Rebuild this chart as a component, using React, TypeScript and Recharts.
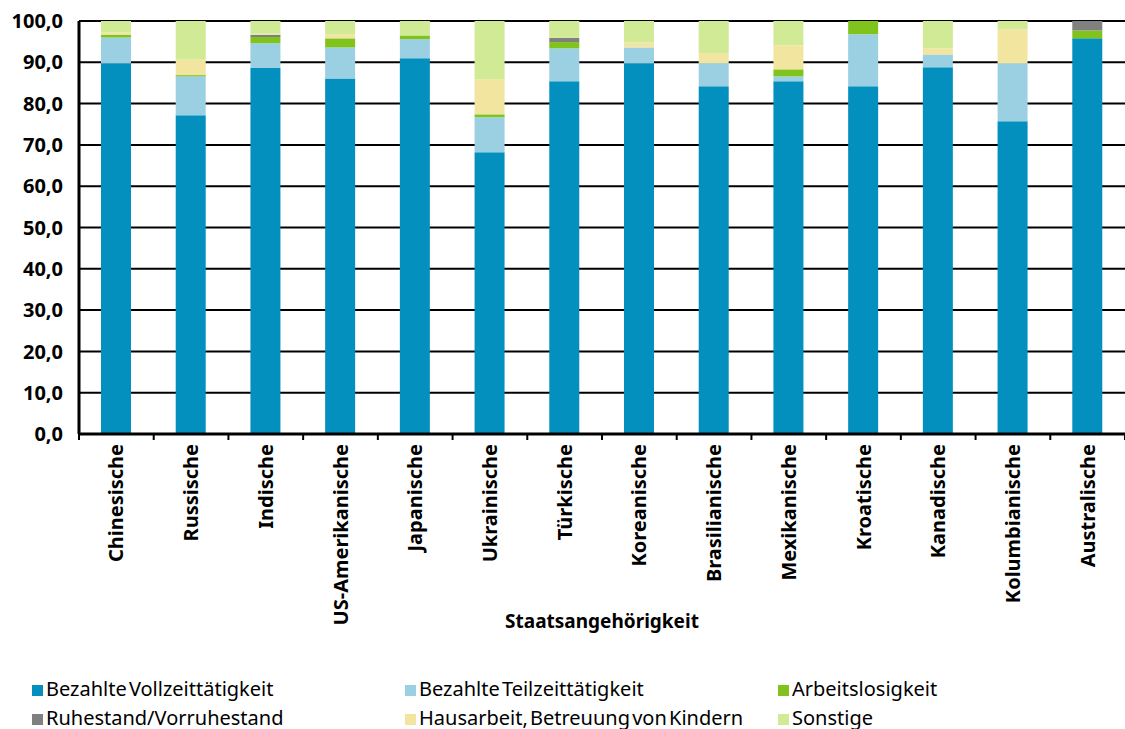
import { BarChart, Bar, XAxis, YAxis, CartesianGrid, Legend } from 'recharts'

const categories = [
  'Chinesische', 'Russische', 'Indische', 'US-Amerikanische', 'Japanische', 'Ukrainische', 'Türkische',
  'Koreanische', 'Brasilianische', 'Mexikanische', 'Kroatische', 'Kanadische', 'Kolumbianische', 'Australische',
]

const vollzeit = [89.8, 77.2, 88.6, 86.1, 91.0, 68.2, 85.4, 89.8, 84.2, 85.4, 84.2, 88.8, 75.7, 95.8]
const teilzeit = [6.2, 9.4, 6.0, 7.5, 4.6, 8.5, 8.0, 3.8, 5.6, 1.2, 12.6, 3.1, 14.1, 0]
const arbeitslos = [0.7, 0.3, 1.5, 2.2, 0.9, 0.7, 1.5, 0, 0, 1.7, 3.2, 0, 0, 1.9]
const ruhestand = [0, 0, 0.6, 0, 0, 0, 1.0, 0, 0, 0, 0, 0, 0, 2.3]
const hausarbeit = [0.5, 3.8, 0.2, 1.0, 0, 8.5, 0, 1.2, 2.4, 5.8, 0, 1.5, 8.2, 0]
const sonstige = [2.8, 9.3, 3.1, 3.2, 3.5, 14.1, 4.1, 5.2, 7.8, 5.9, 0, 6.6, 2.0, 0]

const yTicks = [0, 10, 20, 30, 40, 50, 60, 70, 80, 90, 100]

const series = [
  { key: 'voll', name: 'Bezahlte Vollzeittätigkeit', color: '#0490BF' },
  { key: 'teil', name: 'Bezahlte Teilzeittätigkeit', color: '#9BD0E3' },
  { key: 'arb', name: 'Arbeitslosigkeit', color: '#80C31C' },
  { key: 'ruhe', name: 'Ruhestand/Vorruhestand', color: '#808080' },
  { key: 'haus', name: 'Hausarbeit, Betreuung von Kindern', color: '#F2E5A0' },
  { key: 'sonst', name: 'Sonstige', color: '#D0EA96' },
]

const data = categories.map((c, i) => ({
  name: c,
  voll: vollzeit[i],
  teil: teilzeit[i],
  arb: arbeitslos[i],
  ruhe: ruhestand[i],
  haus: hausarbeit[i],
  sonst: sonstige[i],
}))

const FONT = "'Noto Sans', sans-serif"

// eslint-disable-next-line @typescript-eslint/no-explicit-any
function XTick(props: any) {
  const { x, y, payload, index } = props
  const half = payload?.offset || 37.4
  return (
    <g>
      {index === 0 && <line x1={x - half} y1={y} x2={x - half} y2={y + 6} stroke="#000" strokeWidth={2} />}
      <line x1={x + half} y1={y} x2={x + half} y2={y + 6} stroke="#000" strokeWidth={2} />
      <text
        x={x}
        y={y + 10}
        dy="0.35em"
        transform={`rotate(-90, ${x}, ${y + 10})`}
        textAnchor="end"
        fill="#000"
        fontSize={20}
        fontWeight={700}
        fontFamily={FONT}
      >
        {payload.value}
      </text>
    </g>
  )
}

function LegendContent() {
  return (
    <div
      style={{
        display: 'grid',
        gridTemplateColumns: '373px 373px 373px',
        paddingLeft: 32,
        fontFamily: FONT,
        fontSize: 20,
        lineHeight: '29px',
        color: '#000',
        wordSpacing: -3,
      }}
    >
      {series.map((s) => (
        <div key={s.key} style={{ whiteSpace: 'nowrap' }}>
          <span
            style={{
              display: 'inline-block',
              width: 11,
              height: 11,
              background: s.color,
              marginRight: 3,
              verticalAlign: 'baseline',
            }}
          />
          {s.name}
        </div>
      ))}
    </div>
  )
}

export default function App() {
  return (
    <div style={{ position: 'absolute', left: 0, top: 0, width: 1125, height: 729, background: '#fff' }}>
      <BarChart width={1125} height={729} data={data} margin={{ top: 21, right: 0, left: 0, bottom: 0 }}>
        <CartesianGrid vertical={false} stroke="#000" strokeWidth={2} />
        <XAxis
          dataKey="name"
          height={295}
          interval={0}
          tickSize={0}
          tickMargin={0}
          tickLine={false}
          axisLine={{ stroke: '#000', strokeWidth: 3 }}
          tick={(p: any) => <XTick {...p} />}
          label={{
            value: 'Staatsangehörigkeit',
            position: 'insideTop',
            offset: 181,
            style: { fill: '#000', fontSize: 19, fontWeight: 700, fontFamily: FONT },
          }}
        />
        <YAxis
          width={79}
          domain={[0, 100]}
          ticks={yTicks}
          interval={0}
          tickSize={0}
          tickMargin={16}
          tickLine={false}
          axisLine={{ stroke: '#000', strokeWidth: 3 }}
          tickFormatter={(v: number) => v.toFixed(1).replace('.', ',')}
          tick={{ fill: '#000', fontSize: 20, fontWeight: 700, fontFamily: FONT }}
        />
        <Legend
          layout="horizontal"
          verticalAlign="middle"
          wrapperStyle={{ left: 0, top: 674, width: 1125 }}
          content={() => <LegendContent />}
        />
        {series.map((s) => (
          <Bar
            key={s.key}
            dataKey={s.key}
            name={s.name}
            stackId="a"
            fill={s.color}
            barSize={30}
            isAnimationActive={false}
          />
        ))}
      </BarChart>
    </div>
  )
}
